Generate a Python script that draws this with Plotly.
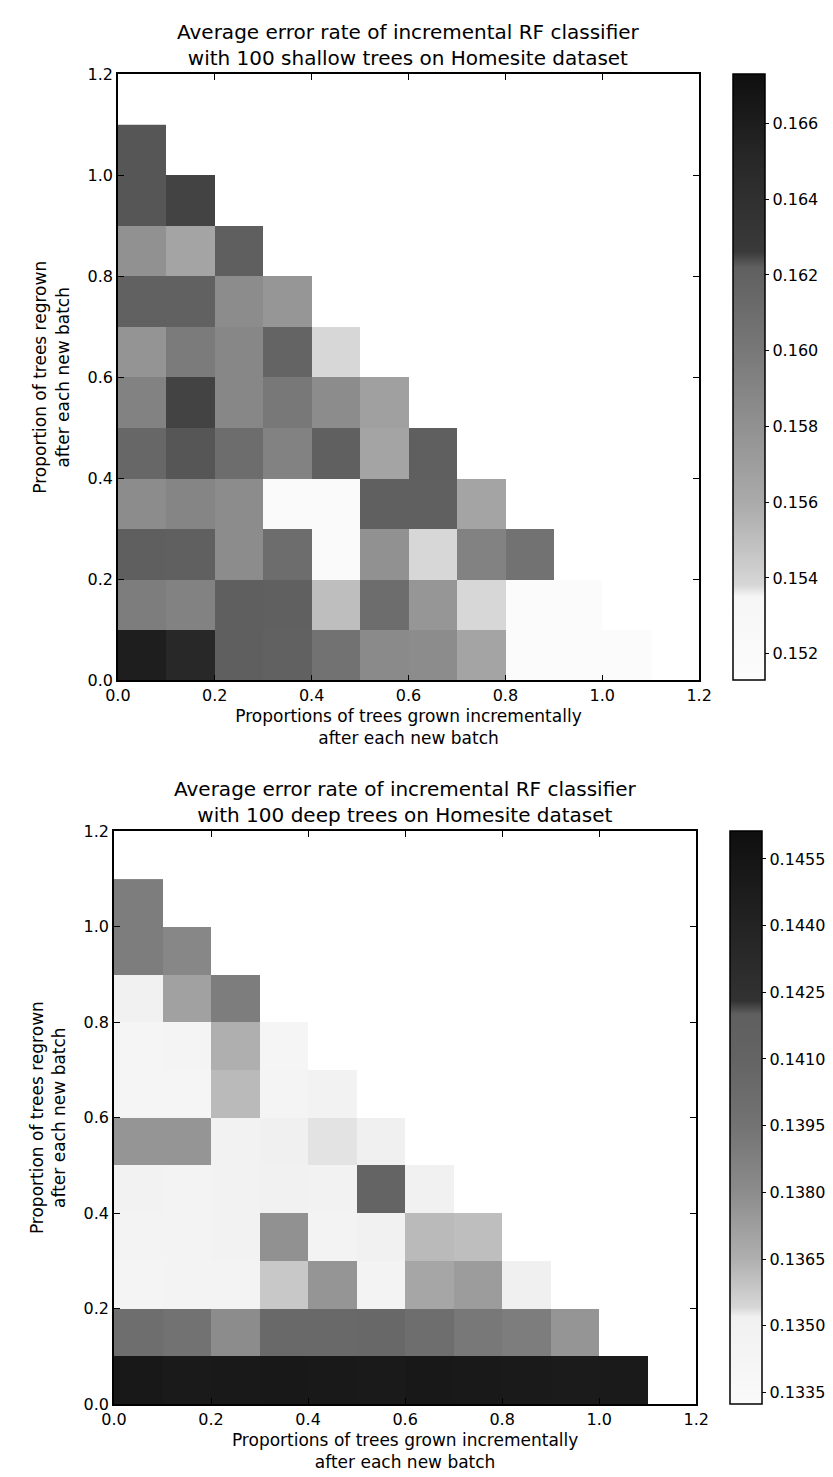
import plotly.graph_objects as go

# ---------------- data ----------------
# cell centres (proportion grown incrementally / proportion regrown)
grown_centres = [0.05, 0.15, 0.25, 0.35, 0.45, 0.55, 0.65, 0.75, 0.85, 0.95, 1.05]
regrown_centres = [0.05, 0.15, 0.25, 0.35, 0.45, 0.55, 0.65, 0.75, 0.85, 0.95, 1.05]

# shallow trees: one list per row (regrown 0.0-0.1, 0.1-0.2, ...), columns from grown 0.0
shallow_rows = [
    [0.1659, 0.1650, 0.1622, 0.1620, 0.1605, 0.1586, 0.1584, 0.1565, 0.1518, 0.1518, 0.1517],
    [0.1596, 0.1592, 0.1622, 0.1621, 0.1550, 0.1610, 0.1576, 0.1538, 0.1518, 0.1518],
    [0.1622, 0.1621, 0.1584, 0.1610, 0.1519, 0.1580, 0.1538, 0.1592, 0.1605],
    [0.1584, 0.1590, 0.1584, 0.1520, 0.1520, 0.1621, 0.1621, 0.1565],
    [0.1615, 0.1623, 0.1610, 0.1592, 0.1621, 0.1565, 0.1622],
    [0.1592, 0.1625, 0.1588, 0.1600, 0.1584, 0.1568],
    [0.1578, 0.1598, 0.1588, 0.1618, 0.1538],
    [0.1620, 0.1620, 0.1584, 0.1576],
    [0.1580, 0.1565, 0.1622],
    [0.1623, 0.1625],
    [0.1623],
]

# deep trees
deep_rows = [
    [0.1452, 0.1450, 0.1451, 0.1452, 0.1451, 0.1450, 0.1452, 0.1451, 0.1450, 0.1449, 0.1450],
    [0.1400, 0.1396, 0.1380, 0.1405, 0.1405, 0.1406, 0.1400, 0.1392, 0.1389, 0.1376],
    [0.1345, 0.1346, 0.1347, 0.1358, 0.1376, 0.1347, 0.1369, 0.1373, 0.1352],
    [0.1347, 0.1346, 0.1348, 0.1378, 0.1347, 0.1350, 0.1362, 0.1361],
    [0.1348, 0.1347, 0.1348, 0.1350, 0.1348, 0.1410, 0.1350],
    [0.1376, 0.1376, 0.1348, 0.1352, 0.1353, 0.1352],
    [0.1343, 0.1342, 0.1362, 0.1344, 0.1348],
    [0.1343, 0.1344, 0.1365, 0.1342],
    [0.1351, 0.1371, 0.1389],
    [0.1389, 0.1383],
    [0.1389],
]

axis_ticks = [0.0, 0.2, 0.4, 0.6, 0.8, 1.0, 1.2]
shallow_cbar_ticks = [0.152, 0.154, 0.156, 0.158, 0.160, 0.162, 0.164, 0.166]
deep_cbar_ticks = [0.1335, 0.1350, 0.1365, 0.1380, 0.1395, 0.1410, 0.1425, 0.1440, 0.1455]
shallow_range = [0.1513, 0.1673]
deep_range = [0.13323, 0.14612]

titles = [
    "Average error rate of incremental RF classifier<br>with 100 shallow trees on Homesite dataset",
    "Average error rate of incremental RF classifier<br>with 100 deep trees on Homesite dataset",
]
xlabel = "Proportions of trees grown incrementally<br>after each new batch"
ylabel = "Proportion of trees regrown<br>after each new batch"

# ---------------- colour scales (mimic scanned gray colour bars) ----------------
shallow_cs_vals = [0.1513, 0.1535, 0.1538, 0.1550, 0.1560, 0.1580, 0.1600, 0.1622, 0.1626, 0.1650, 0.1673]
shallow_cs_gray = [252, 246, 215, 190, 170, 145, 120, 95, 58, 40, 15]
deep_cs_vals = [0.13323, 0.1352, 0.1354, 0.1365, 0.1380, 0.1395, 0.1410, 0.1420, 0.1423, 0.1440, 0.14612]
deep_cs_gray = [250, 240, 215, 175, 140, 115, 100, 95, 50, 35, 15]


def make_scale(vals, grays):
    lo, hi = vals[0], vals[-1]
    return [[(v - lo) / (hi - lo), f"rgb({g},{g},{g})"] for v, g in zip(vals, grays)]


def to_matrix(rows):
    n = len(grown_centres)
    return [r + [None] * (n - len(r)) for r in rows]


W, H = 833, 1477
FONT = "DejaVu Sans"
TICK_SIZE = 16
LABEL_SIZE = 17
TITLE_SIZE = 20

panels = [
    dict(rows=shallow_rows, rng=shallow_range, ticks=shallow_cbar_ticks, fmt=".3f",
         cs=make_scale(shallow_cs_vals, shallow_cs_gray),
         px=(100, 700), py=(58, 672), cbx=735),
    dict(rows=deep_rows, rng=deep_range, ticks=deep_cbar_ticks, fmt=".4f",
         cs=make_scale(deep_cs_vals, deep_cs_gray),
         px=(96, 697), py=(825, 1405), cbx=732),
]

fig = go.Figure()
layout = dict(width=W, height=H, margin=dict(l=0, r=0, t=0, b=0),
              paper_bgcolor="white", plot_bgcolor="white",
              font=dict(family=FONT, color="black"), showlegend=False)
annotations = []

for k, p in enumerate(panels):
    xa = "x" if k == 0 else f"x{k+1}"
    ya = "y" if k == 0 else f"y{k+1}"
    x0, x1 = p["px"]
    y0, y1 = p["py"]
    fig.add_trace(go.Heatmap(
        x=grown_centres, y=regrown_centres, z=to_matrix(p["rows"]),
        zmin=p["rng"][0], zmax=p["rng"][1], colorscale=p["cs"],
        xaxis=xa, yaxis=ya, hoverongaps=False,
        colorbar=dict(
            x=p["cbx"] / W, xanchor="left", xpad=0,
            y=1 - y0 / H, yanchor="top", ypad=0,
            len=(y1 - y0) / H, lenmode="fraction",
            thickness=32, thicknessmode="pixels",
            outlinecolor="black", outlinewidth=1.5,
            tickvals=p["ticks"], tickformat=p["fmt"],
            ticks="outside", ticklen=4, tickcolor="black",
            tickfont=dict(family=FONT, size=TICK_SIZE, color="black"),
        ),
    ))
    axis_common = dict(range=[0, 1.2], tickvals=axis_ticks, tickformat=".1f",
                       showgrid=False, zeroline=False, showline=True,
                       linecolor="black", linewidth=1.5, mirror="ticks",
                       ticks="inside", ticklen=6, tickcolor="black",
                       tickfont=dict(family=FONT, size=TICK_SIZE, color="black"))
    layout["xaxis" + ("" if k == 0 else str(k + 1))] = dict(
        axis_common, domain=[x0 / W, x1 / W], anchor=ya,
        title=dict(text=xlabel, font=dict(family=FONT, size=LABEL_SIZE), standoff=6))
    layout["yaxis" + ("" if k == 0 else str(k + 1))] = dict(
        axis_common, domain=[1 - y1 / H, 1 - y0 / H], anchor=xa,
        title=dict(text=ylabel, font=dict(family=FONT, size=LABEL_SIZE), standoff=14))
    annotations.append(dict(
        text=titles[k], x=(x0 + x1) / 2 / W, y=1 - (y0 - 2) / H,
        xref="paper", yref="paper", xanchor="center", yanchor="bottom",
        showarrow=False, font=dict(family=FONT, size=TITLE_SIZE, color="black")))

layout["annotations"] = annotations
fig.update_layout(**layout)
fig.write_html("out.html")
